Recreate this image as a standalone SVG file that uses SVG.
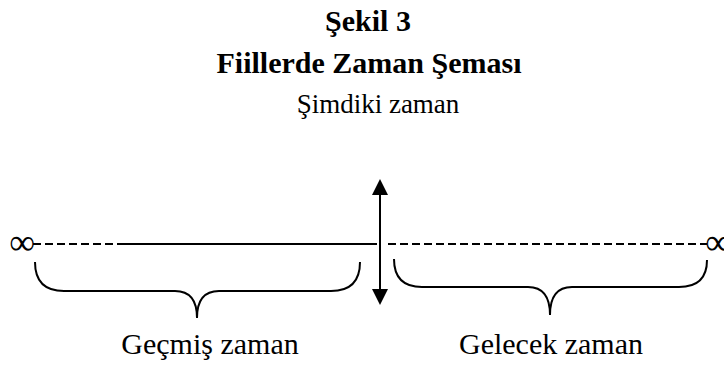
<svg xmlns="http://www.w3.org/2000/svg" width="724" height="371" viewBox="0 0 724 371">
<style>
.t{font-family:"Liberation Serif","Times New Roman",Times,serif;fill:#000;text-anchor:middle}
.b{font-weight:bold;font-size:30px}
.r{font-size:30px}
.s{font-size:27px}
.ln{stroke:#000;stroke-width:2;fill:none}
.d{stroke-dasharray:8 4}
.inf{font-size:36px}
</style>
<rect width="724" height="371" fill="#fff"/>
<g id="title">
<text class="t b" x="368" y="31">Şekil 3</text>
<text class="t b" x="369" y="73">Fiillerde Zaman Şeması</text>
</g>
<g id="simdiki">
<text class="t s" x="378" y="113">Şimdiki zaman</text>
</g>
<g id="connectors">
<path class="ln d" d="M33,244 H158"/>
<path class="ln" d="M120,244 H377"/>
<path class="ln d" d="M388,244 H707"/>
<path class="ln" d="M380,192 V292"/>
<polygon points="380,179 372,195 388,195" fill="#000"/>
<polygon points="380,305 372,289 388,289" fill="#000"/>
</g>
<g id="inf-left"><text class="t inf" x="22" y="254">∞</text></g>
<g id="inf-right"><text class="t inf" x="718" y="254">∞</text></g>
<g id="gecmis">
<path class="ln" d="M35,262 Q35,291 64,291 L175,291 Q197,291 197,318 Q197,291 219,291 L331,291 Q360,291 360,262"/>
<text class="t r" x="210" y="354">Geçmiş zaman</text>
</g>
<g id="gelecek">
<path class="ln" d="M394,259 Q394,287 422,287 L528,287 Q550,287 550,315 Q550,287 572,287 L679,287 Q707,287 707,260"/>
<text class="t r" x="551" y="354">Gelecek zaman</text>
</g>
</svg>
